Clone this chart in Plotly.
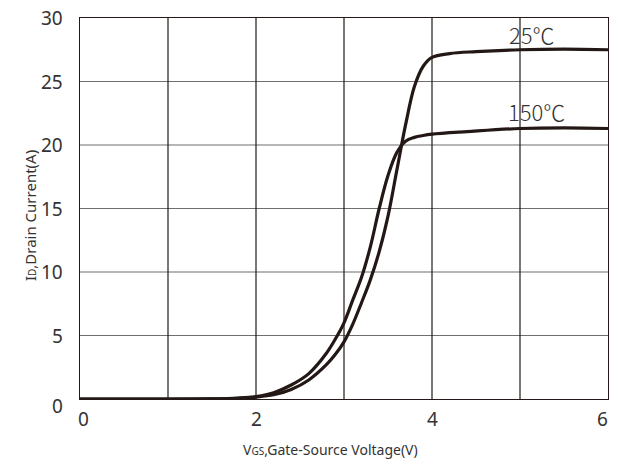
import plotly.graph_objects as go

# Transfer characteristics: drain current vs gate-source voltage
vgs_25 = [0.0, 0.8, 1.5, 1.8, 2.0, 2.2, 2.4, 2.6, 2.8, 2.9, 3.0, 3.1, 3.2, 3.3, 3.4,
          3.5, 3.6, 3.7, 3.8, 3.9, 4.0, 4.2, 4.5, 5.0, 5.5, 6.0]
id_25 = [0.0, 0.0, 0.01, 0.06, 0.15, 0.33, 0.75, 1.5, 2.7, 3.5, 4.5, 5.9, 7.6, 9.4, 11.6,
         14.4, 18.0, 21.6, 24.6, 26.2, 26.9, 27.2, 27.35, 27.5, 27.55, 27.5]

vgs_150 = [0.0, 0.8, 1.5, 1.8, 2.0, 2.2, 2.4, 2.6, 2.8, 2.9, 3.0, 3.1, 3.2, 3.3, 3.4,
           3.5, 3.6, 3.7, 3.8, 3.9, 4.0, 4.4, 5.0, 5.5, 6.0]
id_150 = [0.0, 0.0, 0.015, 0.08, 0.2, 0.5, 1.1, 2.0, 3.6, 4.7, 6.0, 7.8, 9.6, 12.0, 15.0,
          17.6, 19.4, 20.3, 20.6, 20.75, 20.85, 21.05, 21.3, 21.35, 21.3]

x_tick_vals = [0, 2, 4, 6]
x_tick_text = ["0", "2", "4", "6"]
y_tick_vals = [0, 5, 10, 15, 20, 25, 30]
y_tick_text = ["0", "5", "10", "15", "20", "25", "30"]

curve_labels = ["25℃", "150℃"]
label_pos = [(5.14, 28.75), (5.19, 22.7)]

INK = "#231815"
TEXT = "#333333"
FONT = "Noto Sans"
CJK = "Noto Sans CJK SC"

fig = go.Figure()
for xs, ys in [(vgs_25, id_25), (vgs_150, id_150)]:
    fig.add_trace(go.Scatter(
        x=xs, y=ys, mode="lines",
        line=dict(color=INK, width=3.2, shape="spline", smoothing=1.0),
        showlegend=False, hoverinfo="skip",
    ))

# horizontal grid (lighter) and vertical grid (dark)
for v in [5, 10, 15, 20, 25]:
    fig.add_shape(type="line", xref="x", yref="y", x0=0, x1=6, y0=v, y1=v,
                  line=dict(color="#6e6e6e", width=1.2), layer="below")
for v in [1, 2, 3, 4, 5]:
    fig.add_shape(type="line", xref="x", yref="y", x0=v, x1=v, y0=0, y1=30,
                  line=dict(color=INK, width=1.2), layer="below")

annotations = []
# x tick labels
x_shift = {0: 3, 6: -6}
for v, t in zip(x_tick_vals, x_tick_text):
    annotations.append(dict(x=v, y=0, xref="x", yref="y", text=t, showarrow=False,
                            xshift=x_shift.get(v, 0), yshift=-20,
                            font=dict(family=FONT, size=19, color=TEXT)))
# y tick labels
for v, t in zip(y_tick_vals, y_tick_text):
    annotations.append(dict(x=0, y=v, xref="x", yref="y", text=t, showarrow=False,
                            xanchor="right", xshift=-15, yshift=-7 if v == 0 else 0,
                            font=dict(family=FONT, size=19, color=TEXT)))
# curve labels
for (lx, ly), t in zip(label_pos, curve_labels):
    annotations.append(dict(x=lx, y=ly, xref="x", yref="y", text=t, showarrow=False,
                            font=dict(family=CJK, size=22, color=TEXT, weight=300)))
# axis titles
annotations.append(dict(x=0.475, y=0, xref="paper", yref="paper", yshift=-62,
                        text='V<span style="font-size:10px">GS</span>,Gate-Source Voltage(V)',
                        showarrow=False, font=dict(family=FONT, size=14, color=TEXT)))
annotations.append(dict(x=0, y=0.48, xref="paper", yref="paper", xshift=-62,
                        text='I<span style="font-size:10px">D</span>,Drain Current(A)',
                        textangle=-90, showarrow=False,
                        font=dict(family=FONT, size=15, color=TEXT)))

fig.update_layout(
    width=618, height=471,
    margin=dict(l=80, r=10, t=18, b=72),
    paper_bgcolor="white", plot_bgcolor="white",
    annotations=annotations,
    xaxis=dict(range=[0, 6], showgrid=False, zeroline=False, showticklabels=False,
               ticks="", showline=True, linecolor=INK, linewidth=1.4, mirror=True),
    yaxis=dict(range=[0, 30], showgrid=False, zeroline=False, showticklabels=False,
               ticks="", showline=True, linecolor=INK, linewidth=1.4, mirror=True),
)

fig.write_html("out.html")
